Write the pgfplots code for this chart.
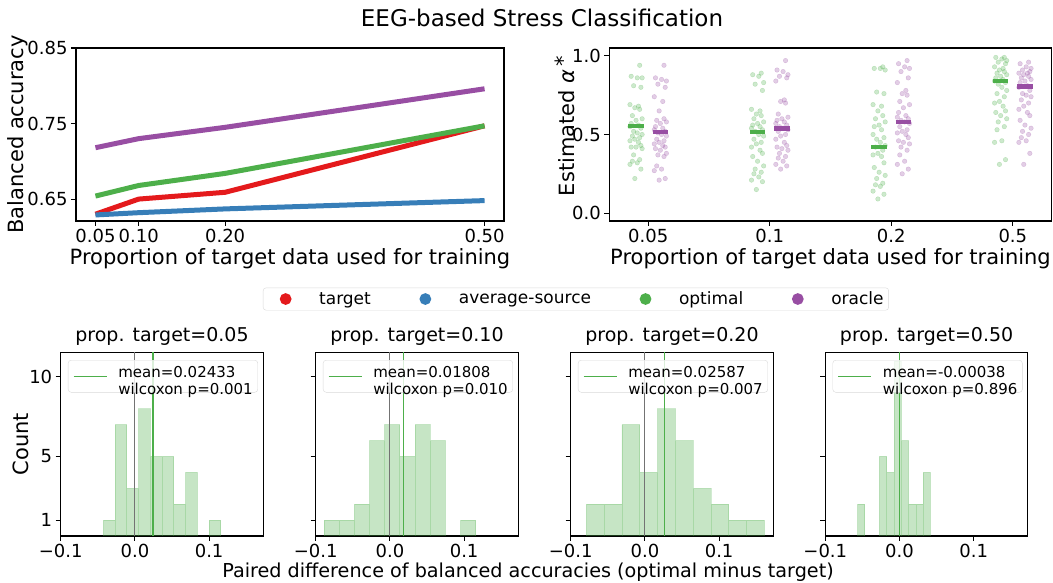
\documentclass[border=0pt]{standalone}
\usepackage{fontspec}
\setmainfont{DejaVu Sans}
\usepackage{pgfplots}
\pgfplotsset{compat=1.18}
\usepackage{pgfplotstable}

\definecolor{tgtred}{HTML}{E41A1C}
\definecolor{srcblue}{HTML}{377EB8}
\definecolor{optgreen}{HTML}{4DAF4A}
\definecolor{orcpurple}{HTML}{984EA3}

\pgfplotsset{
  base/.style={
    scale only axis, anchor=south west,
    axis line style={line width=1.1pt},
    every tick/.style={line width=1.1pt, black},
    major tick length=5pt, tick align=outside, tick pos=left,
    tick label style={font=\fontsize{18}{21}\selectfont},
    /pgf/number format/assume math mode=true,
    label style={font=\fontsize{21}{25}\selectfont},
  },
  hist/.style={
    base, width=202.6pt, height=183.7pt,
    xmin=-0.1, xmax=0.173, ymin=0, ymax=11.55,
    xtick={-0.1,0,0.1}, xticklabels={−0.1,0.0,0.1},
    ytick={1,5,10},
    title style={font=\fontsize{19}{22}\selectfont, at={(0.5,1)}, anchor=base, yshift=5pt},
    legend style={at={(0.036,0.958)}, anchor=north west, draw=black!15,
      rounded corners=3pt, fill=white, fill opacity=0.8, text opacity=1,
      inner ysep=3pt, font=\fontsize{15}{17}\selectfont},
    legend image code/.code={\path (0pt,0pt) (44pt,0pt); \draw[#1] (2pt,0pt) -- (35pt,0pt);},
  },
  bars/.style={ybar interval, fill=optgreen, fill opacity=0.32,
    draw=optgreen, draw opacity=0.25, line width=0.8pt},
}

% estimated alpha per subject, jitter j in category units
\pgfplotstableread{
j     g1   p1   g2   p2   g3   p3   g4   p4
0.03  0.94 0.94 0.89 0.97 0.93 0.97 0.99 0.96
-0.04 0.87 0.86 0.88 0.91 0.92 0.95 0.99 0.95
0.01  0.86 0.85 0.87 0.90 0.92 0.93 0.98 0.93
0.05  0.86 0.84 0.83 0.88 0.91 0.92 0.97 0.92
-0.02 0.81 0.82 0.82 0.87 0.77 0.90 0.96 0.91
0.04  0.80 0.80 0.78 0.86 0.76 0.86 0.95 0.90
-0.05 0.69 0.74 0.66 0.84 0.69 0.83 0.93 0.89
0.02  0.68 0.71 0.65 0.72 0.68 0.78 0.92 0.89
-0.01 0.67 0.65 0.63 0.71 0.65 0.76 0.91 0.88
0.03  0.66 0.60 0.62 0.70 0.62 0.75 0.90 0.87
-0.03 0.62 0.59 0.60 0.63 0.60 0.71 0.89 0.86
0.05  0.60 0.58 0.58 0.61 0.58 0.69 0.88 0.85
0.00  0.59 0.57 0.57 0.60 0.56 0.67 0.87 0.84
-0.04 0.57 0.55 0.56 0.59 0.55 0.64 0.86 0.83
0.02  0.56 0.54 0.55 0.58 0.53 0.62 0.85 0.81
-0.05 0.55 0.53 0.54 0.57 0.50 0.61 0.84 0.80
0.04  0.54 0.52 0.53 0.56 0.48 0.60 0.83 0.78
-0.02 0.52 0.51 0.52 0.55 0.47 0.59 0.82 0.76
0.01  0.51 0.50 0.50 0.54 0.45 0.58 0.80 0.75
0.05  0.50 0.49 0.49 0.53 0.43 0.57 0.78 0.74
-0.03 0.49 0.47 0.47 0.52 0.42 0.55 0.76 0.72
0.03  0.48 0.46 0.45 0.50 0.40 0.53 0.74 0.70
-0.01 0.47 0.45 0.44 0.49 0.38 0.52 0.71 0.68
-0.05 0.46 0.44 0.42 0.47 0.37 0.51 0.70 0.66
0.02  0.45 0.43 0.40 0.45 0.36 0.50 0.68 0.64
0.04  0.43 0.42 0.38 0.43 0.32 0.48 0.65 0.62
-0.04 0.42 0.41 0.36 0.42 0.29 0.46 0.64 0.59
0.00  0.42 0.40 0.33 0.41 0.26 0.45 0.62 0.56
0.05  0.41 0.38 0.30 0.40 0.24 0.44 0.60 0.54
-0.02 0.37 0.37 0.28 0.38 0.22 0.42 0.58 0.52
0.03  0.34 0.36 0.26 0.36 0.19 0.40 0.55 0.50
-0.03 0.33 0.30 0.25 0.35 0.18 0.37 0.53 0.48
0.01  0.32 0.28 0.23 0.33 0.17 0.33 0.46 0.46
-0.05 0.31 0.27 0.21 0.31 0.14 0.31 0.45 0.45
0.04  0.28 0.22 0.20 0.30 0.12 0.28 0.34 0.38
-0.01 0.22 0.21 0.15 0.28 0.09 0.25 0.31 0.31
}\alphadata

\begin{document}
\begin{tikzpicture}

\node[font=\fontsize{23}{27}\selectfont] at (542pt,565pt) {EEG-based Stress Classification};

% balanced accuracy vs proportion
\begin{axis}[base, at={(76pt,362pt)}, width=428pt, height=173pt,
  xmin=0.0275, xmax=0.5225, ymin=0.621, ymax=0.85,
  xtick={0.05,0.1,0.2,0.5}, xticklabels={0.05,0.10,0.20,0.50},
  ytick={0.65,0.75,0.85}, yticklabels={0.65,0.75,0.85},
  xlabel={Proportion of target data used for training},
  ylabel={Balanced accuracy},
  xlabel style={at={(0.5,-0.22)}, anchor=center},
  ylabel style={at={(-0.136,0.5)}, anchor=center},
  legend columns=4,
  legend style={at={(1.168,-0.451)}, anchor=center, draw=black!15,
    rounded corners=3pt, font=\fontsize{17}{20}\selectfont,
    /tikz/every even column/.append style={column sep=33pt}},
  legend image code/.code={\path (0pt,0pt) (46pt,0pt); \fill[#1] (17pt,0pt) circle (3.2pt);},
]
\addplot[tgtred, line width=5pt] coordinates {(0.05,0.630) (0.10,0.650) (0.20,0.659) (0.50,0.747)};
\addlegendentry{target}
\addplot[srcblue, line width=5pt] coordinates {(0.05,0.629) (0.10,0.632) (0.20,0.637) (0.50,0.648)};
\addlegendentry{average-source}
\addplot[optgreen, line width=5pt] coordinates {(0.05,0.654) (0.10,0.668) (0.20,0.684) (0.50,0.747)};
\addlegendentry{optimal}
\addplot[orcpurple, line width=5pt] coordinates {(0.05,0.718) (0.10,0.730) (0.20,0.745) (0.50,0.796)};
\addlegendentry{oracle}
\end{axis}

% estimated alpha strip plot
\begin{axis}[base, at={(609.3pt,362pt)}, width=442.4pt, height=173pt,
  xmin=-0.32, xmax=3.32, ymin=-0.05, ymax=1.05,
  xtick={0,1,2,3}, xticklabels={0.05,0.1,0.2,0.5},
  ytick={0,0.5,1}, yticklabels={0.0,0.5,1.0},
  xlabel={Proportion of target data used for training},
  ylabel={Estimated \textit{α}\,\raisebox{0.35ex}{*}},
  xlabel style={at={(0.5,-0.22)}, anchor=center},
  ylabel style={at={(-0.100,0.55)}, anchor=center},
]
\addplot[only marks, mark=*, mark size=2.3pt, optgreen, opacity=0.28] table[x expr=\thisrow{j}-0.1, y=g1] {\alphadata};
\addplot[only marks, mark=*, mark size=2.3pt, orcpurple, opacity=0.28] table[x expr=\thisrow{j}+0.1, y=p1] {\alphadata};
\addplot[only marks, mark=*, mark size=2.3pt, optgreen, opacity=0.28] table[x expr=\thisrow{j}+0.9, y=g2] {\alphadata};
\addplot[only marks, mark=*, mark size=2.3pt, orcpurple, opacity=0.28] table[x expr=\thisrow{j}+1.1, y=p2] {\alphadata};
\addplot[only marks, mark=*, mark size=2.3pt, optgreen, opacity=0.28] table[x expr=\thisrow{j}+1.9, y=g3] {\alphadata};
\addplot[only marks, mark=*, mark size=2.3pt, orcpurple, opacity=0.28] table[x expr=\thisrow{j}+2.1, y=p3] {\alphadata};
\addplot[only marks, mark=*, mark size=2.3pt, optgreen, opacity=0.28] table[x expr=\thisrow{j}+2.9, y=g4] {\alphadata};
\addplot[only marks, mark=*, mark size=2.3pt, orcpurple, opacity=0.28] table[x expr=\thisrow{j}+3.1, y=p4] {\alphadata};
\addplot[optgreen, line width=4.5pt, unbounded coords=jump] coordinates {
  (-0.1635,0.553) (-0.0365,0.553) (0,nan)
  (0.8365,0.515) (0.9635,0.515) (1,nan)
  (1.8365,0.419) (1.9635,0.419) (2,nan)
  (2.8365,0.840) (2.9635,0.840)};
\addplot[orcpurple, line width=4.5pt, unbounded coords=jump] coordinates {
  (0.0365,0.515) (0.1635,0.515) (0,nan)
  (1.0365,0.538) (1.1635,0.538) (1,nan)
  (2.0365,0.581) (2.1635,0.581) (2,nan)
  (3.0365,0.804) (3.1635,0.804)};
\end{axis}

% histograms of paired differences
\begin{axis}[hist, at={(60.7pt,47pt)}, title={prop. target=0.05},
  ylabel={Count}, ylabel style={at={(-0.196,0.5)}, anchor=center}]
\addplot[bars, forget plot] coordinates {(-0.0426,1) (-0.0268,7) (-0.0109,3) (0.0049,8) (0.0207,5)
  (0.0366,5) (0.0524,2) (0.0682,4) (0.0841,0) (0.0999,1) (0.1157,1)};
\addplot[black!55, line width=1.1pt, forget plot] coordinates {(0,0) (0,12)};
\addplot[optgreen, line width=1.1pt] coordinates {(0.02433,0) (0.02433,12)};
\addlegendentry{\begin{tabular}{@{}l@{}}mean=0.02433\\wilcoxon p=0.001\end{tabular}}
\end{axis}

\begin{axis}[hist, at={(315.7pt,47pt)}, title={prop. target=0.10}, yticklabels={}]
\addplot[bars, forget plot] coordinates {(-0.0888,1) (-0.0684,1) (-0.0479,2) (-0.0275,6) (-0.0070,7)
  (0.0134,5) (0.0339,7) (0.0543,6) (0.0748,0) (0.0952,1) (0.1157,1)};
\addplot[black!55, line width=1.1pt, forget plot] coordinates {(0,0) (0,12)};
\addplot[optgreen, line width=1.1pt] coordinates {(0.01808,0) (0.01808,12)};
\addlegendentry{\begin{tabular}{@{}l@{}}mean=0.01808\\wilcoxon p=0.010\end{tabular}}
\end{axis}

\begin{axis}[hist, at={(570.7pt,47pt)}, title={prop. target=0.20}, yticklabels={}]
\addplot[bars, forget plot] coordinates {(-0.0789,2) (-0.0549,2) (-0.0309,7) (-0.0069,4) (0.0171,8)
  (0.0411,6) (0.0650,3) (0.0890,2) (0.1130,1) (0.1370,1) (0.1610,1)};
\addplot[black!55, line width=1.1pt, forget plot] coordinates {(0,0) (0,12)};
\addplot[optgreen, line width=1.1pt] coordinates {(0.02587,0) (0.02587,12)};
\addlegendentry{\begin{tabular}{@{}l@{}}mean=0.02587\\wilcoxon p=0.007\end{tabular}}
\end{axis}

\begin{axis}[hist, at={(825.3pt,47pt)}, title={prop. target=0.50}, yticklabels={}]
\addplot[bars, forget plot] coordinates {(-0.0565,2) (-0.0467,0) (-0.0369,0) (-0.0271,5) (-0.0172,4)
  (-0.0074,11) (0.0024,6) (0.0122,2) (0.0221,2) (0.0319,4) (0.0417,4)};
\addplot[black!55, line width=1.1pt, forget plot] coordinates {(0,0) (0,12)};
\addplot[optgreen, line width=1.1pt] coordinates {(-0.00038,0) (-0.00038,12)};
\addlegendentry{\begin{tabular}{@{}l@{}}mean=-0.00038\\wilcoxon p=0.896\end{tabular}}
\end{axis}

\node[font=\fontsize{19.2}{23}\selectfont] at (528pt,11pt) {Paired difference of balanced accuracies (optimal minus target)};

\pgfresetboundingbox
\path[use as bounding box] (0pt,0pt) rectangle (1053pt,583pt);
\end{tikzpicture}
\end{document}
